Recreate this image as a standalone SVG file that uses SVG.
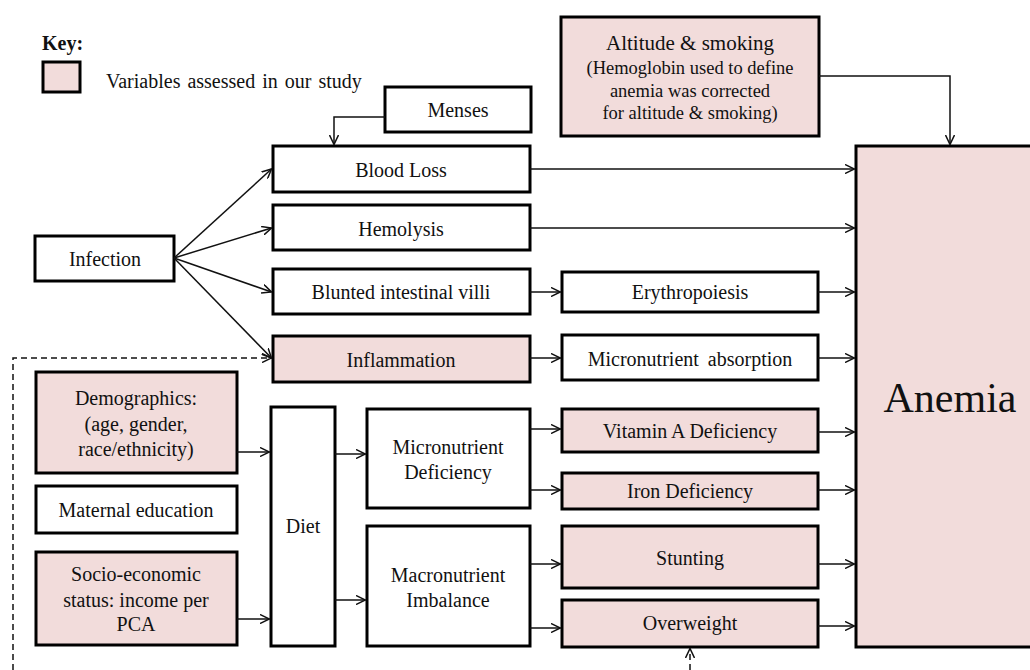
<svg xmlns="http://www.w3.org/2000/svg" width="1030" height="670" viewBox="0 0 1030 670">
<defs>
<style>
.box{stroke:#000;stroke-width:3;fill:#fff}
.pink{fill:#F2DCDB}
.t{font-family:"Liberation Serif","Times New Roman",serif;font-size:20px;fill:#111;text-anchor:middle}
.s{font-size:18.5px}
.c{fill:none;stroke:#111;stroke-width:1.5;marker-end:url(#ah)}
.d{stroke-dasharray:6 4}
</style>
<marker id="ah" viewBox="0 0 10 10" refX="9.5" refY="5" markerWidth="10" markerHeight="10" markerUnits="userSpaceOnUse" orient="auto">
<path d="M0,0.5 L9.5,5 L0,9.5" fill="none" stroke="#111" stroke-width="1.5"/>
</marker>
</defs>
<rect width="1030" height="670" fill="#fff"/>
<g id="key">
<text class="t" x="42" y="50" style="text-anchor:start;font-weight:bold">Key:</text>
<rect class="box pink" x="43" y="62" width="37" height="30"/>
<text class="t" x="106" y="88" style="text-anchor:start;word-spacing:2px">Variables assessed in our study</text>
</g>
<g id="nodes">
<g id="menses"><rect class="box" x="385" y="87" width="146" height="45"/><text class="t" x="458" y="117">Menses</text></g>
<g id="bloodloss"><rect class="box" x="273" y="146" width="257" height="46"/><text class="t" x="401" y="177">Blood Loss</text></g>
<g id="hemolysis"><rect class="box" x="273" y="205" width="257" height="45"/><text class="t" x="401" y="236">Hemolysis</text></g>
<g id="infection"><rect class="box" x="35" y="236" width="139" height="45"/><text class="t" x="105" y="266">Infection</text></g>
<g id="blunted"><rect class="box" x="273" y="269" width="257" height="45"/><text class="t" x="401" y="299">Blunted intestinal villi</text></g>
<g id="inflammation"><rect class="box pink" x="273" y="336" width="257" height="46"/><text class="t" x="401" y="367">Inflammation</text></g>
<g id="altitude"><rect class="box pink" x="561" y="17" width="258" height="119"/>
<text class="t" x="690" y="50" style="font-size:21px">Altitude &amp; smoking</text>
<text class="t s" x="690" y="74">(Hemoglobin used to define</text>
<text class="t s" x="690" y="97">anemia was corrected</text>
<text class="t s" x="690" y="119">for altitude &amp; smoking)</text></g>
<g id="erythropoiesis"><rect class="box" x="562" y="272" width="256" height="40"/><text class="t" x="690" y="299">Erythropoiesis</text></g>
<g id="absorption"><rect class="box" x="562" y="335" width="256" height="45"/><text class="t" x="690" y="366" style="word-spacing:4px">Micronutrient absorption</text></g>
<g id="vitamina"><rect class="box pink" x="562" y="409" width="256" height="43"/><text class="t" x="690" y="438">Vitamin A Deficiency</text></g>
<g id="iron"><rect class="box pink" x="562" y="473" width="256" height="36"/><text class="t" x="690" y="498">Iron Deficiency</text></g>
<g id="stunting"><rect class="box pink" x="562" y="526" width="256" height="62"/><text class="t" x="690" y="565">Stunting</text></g>
<g id="overweight"><rect class="box pink" x="562" y="600" width="256" height="47"/><text class="t" x="690" y="630">Overweight</text></g>
<g id="anemia"><rect class="box pink" x="856" y="146" width="190" height="501"/><text class="t" x="950" y="412" style="font-size:42px">Anemia</text></g>
<g id="demographics"><rect class="box pink" x="36" y="372" width="201" height="101"/>
<text class="t" x="136" y="405">Demographics:</text>
<text class="t" x="136" y="431">(age, gender,</text>
<text class="t" x="136" y="456">race/ethnicity)</text></g>
<g id="maternal"><rect class="box" x="36" y="486" width="201" height="47"/><text class="t" x="136" y="517">Maternal education</text></g>
<g id="socio"><rect class="box pink" x="36" y="552" width="201" height="93"/>
<text class="t" x="136" y="581">Socio-economic</text>
<text class="t" x="136" y="607">status: income per</text>
<text class="t" x="136" y="631">PCA</text></g>
<g id="diet"><rect class="box" x="271" y="407" width="64" height="239"/><text class="t" x="303" y="533">Diet</text></g>
<g id="microdef"><rect class="box" x="367" y="409" width="163" height="99"/>
<text class="t" x="448" y="454">Micronutrient</text>
<text class="t" x="448" y="479">Deficiency</text></g>
<g id="macro"><rect class="box" x="367" y="526" width="163" height="120"/>
<text class="t" x="448" y="582">Macronutrient</text>
<text class="t" x="448" y="607">Imbalance</text></g>
</g>
<g id="connectors">
<path class="c" d="M385,117 H334 V144.5"/>
<path class="c" d="M819,76 H950 V144.5"/>
<path class="c" d="M174,258 L271.5,169"/>
<path class="c" d="M174,258 L271.5,228"/>
<path class="c" d="M174,258 L271.5,292"/>
<path class="c" d="M174,258 L271.5,358"/>
<path class="c" d="M530,169 H854.5"/>
<path class="c" d="M530,228 H854.5"/>
<path class="c" d="M530,292 H560.5"/>
<path class="c" d="M530,358 H560.5"/>
<path class="c" d="M818,292 H854.5"/>
<path class="c" d="M818,358 H854.5"/>
<path class="c" d="M818,432 H854.5"/>
<path class="c" d="M818,490 H854.5"/>
<path class="c" d="M818,564 H854.5"/>
<path class="c" d="M818,626 H854.5"/>
<path class="c" d="M237,452 H269.5"/>
<path class="c" d="M237,619 H269.5"/>
<path class="c" d="M335,454 H365.5"/>
<path class="c" d="M335,600 H365.5"/>
<path class="c" d="M530,429 H560.5"/>
<path class="c" d="M530,490 H560.5"/>
<path class="c" d="M530,564 H560.5"/>
<path class="c" d="M530,628 H560.5"/>
<path class="c d" d="M13,670 V358 H271.5"/>
<path class="c d" d="M690,670 V648.5"/>
</g>
</svg>
